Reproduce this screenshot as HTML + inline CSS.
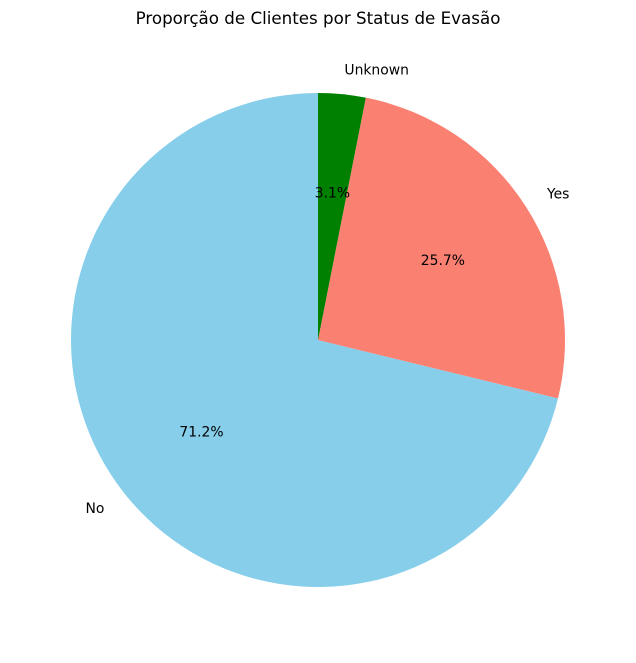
<!DOCTYPE html>
<html><head><meta charset="utf-8"><style>
body{margin:0;background:#fff;}
svg text{font-family:"DejaVu Sans","Liberation Sans",sans-serif;}
</style></head><body>
<svg id="chart" width="636" height="658">
<text x="318" y="24" text-anchor="middle" font-size="16.7">Proporção de Clientes por Status de Evasão</text>
<g id="slices"></g>
</svg>
<script>
const categories = ["No", "Yes", "Unknown"];
const values = [71.2, 25.7, 3.1];
const colors = ["#87ceeb", "#fa8072", "#008000"];
const cx = 318, cy = 340, r = 247, startAngle = 90;
const ns = "http://www.w3.org/2000/svg";
const g = document.getElementById("slices");
const total = values.reduce((a, b) => a + b, 0);
let a0 = startAngle;
function pt(angDeg, rad) { const t = angDeg * Math.PI / 180; return [cx + rad * Math.cos(t), cy - rad * Math.sin(t)]; }
values.forEach((v, i) => {
  const sweep = v / total * 360, a1 = a0 + sweep;
  const p0 = pt(a0, r), p1 = pt(a1, r);
  const path = document.createElementNS(ns, "path");
  path.setAttribute("d", `M${cx},${cy} L${p0[0]},${p0[1]} A${r},${r} 0 ${sweep > 180 ? 1 : 0} 0 ${p1[0]},${p1[1]} Z`);
  path.setAttribute("fill", colors[i]);
  
  
  g.appendChild(path);
  const mid = (a0 + a1) / 2;
  const lp = pt(mid, r * 1.1);
  const lab = document.createElementNS(ns, "text");
  lab.setAttribute("x", lp[0]); lab.setAttribute("y", lp[1] + 5);
  lab.setAttribute("font-size", "13.9");
  lab.setAttribute("text-anchor", Math.cos(mid * Math.PI / 180) >= 0 ? "start" : "end");
  lab.textContent = categories[i];
  
  
  g.appendChild(lab);
  const pp = pt(mid, r * 0.6);
  const pc = document.createElementNS(ns, "text");
  pc.setAttribute("x", pp[0]); pc.setAttribute("y", pp[1] + 5);
  pc.setAttribute("font-size", "13.9");
  pc.setAttribute("text-anchor", "middle");
  pc.textContent = (v / total * 100).toFixed(1) + "%";
  
  
  g.appendChild(pc);
  a0 = a1;
});
</script>
</body></html>
